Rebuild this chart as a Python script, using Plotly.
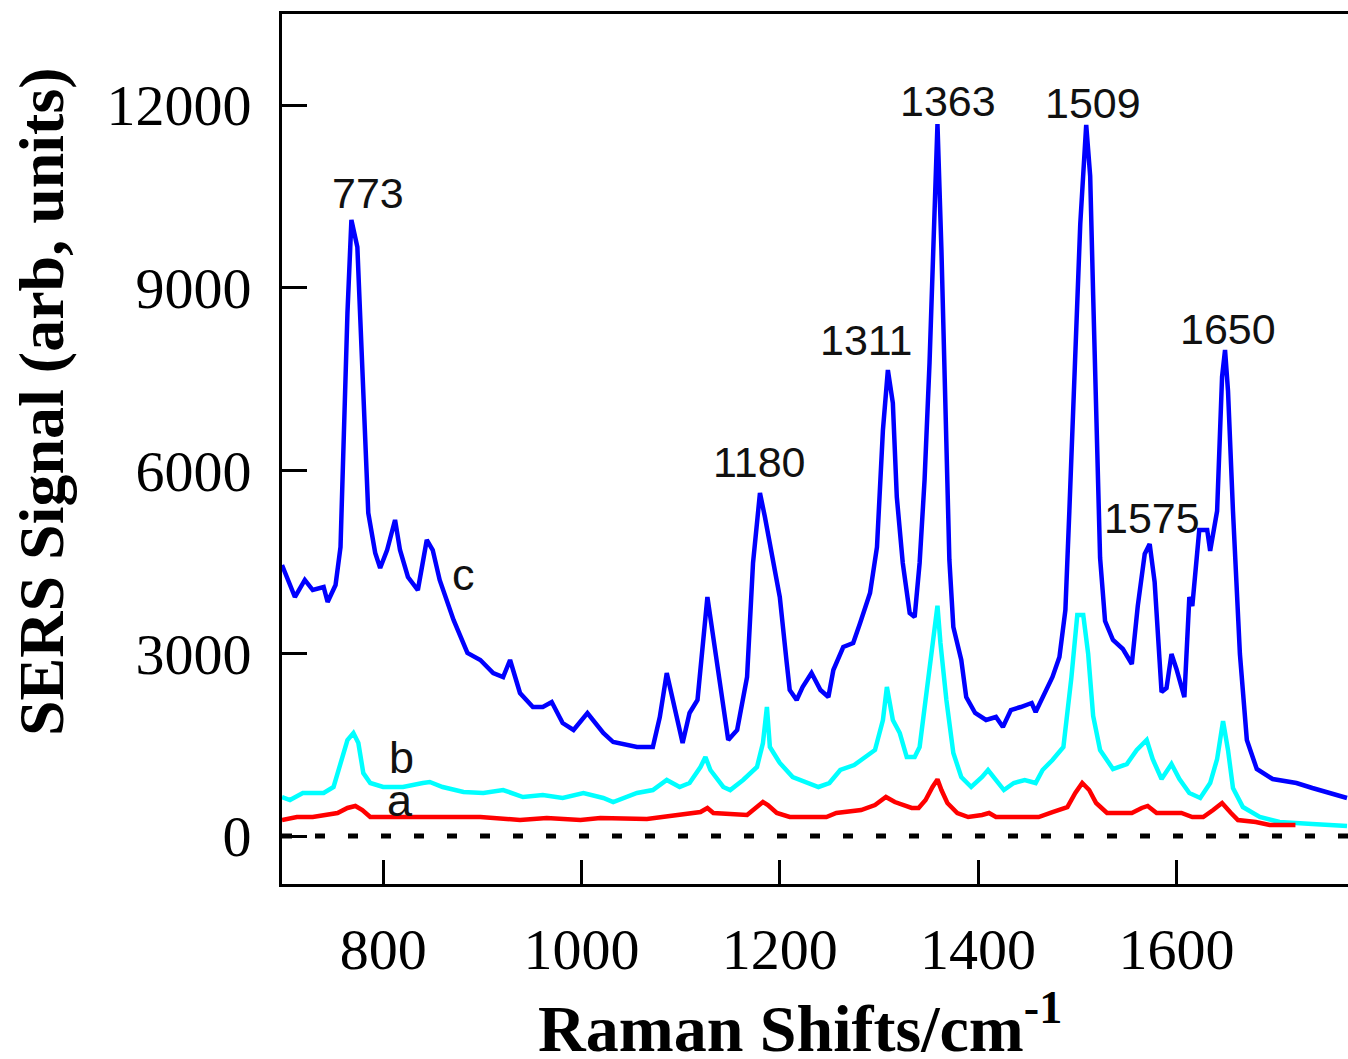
import plotly.graph_objects as go

# ---- Data (Raman shift in cm^-1, SERS signal in arb. units) ----
c_x = [698, 711, 721, 729, 740, 744, 752, 757, 760, 764, 768, 774, 777, 782, 785, 792, 797,
       804, 812, 817, 825, 835, 844, 850, 857, 871, 885, 898, 911, 921, 928, 938, 951, 961,
       970, 981, 992, 1006, 1022, 1032, 1056, 1072, 1079, 1086, 1092, 1102, 1109, 1117, 1127,
       1137, 1148, 1157, 1167, 1173, 1180, 1185, 1193, 1200, 1207, 1210, 1217, 1223, 1232,
       1241, 1249, 1254, 1264, 1274, 1281, 1291, 1298, 1304, 1309, 1314, 1318, 1324, 1331,
       1336, 1341, 1346, 1351, 1356, 1359, 1363, 1368, 1371, 1375, 1383, 1388, 1397, 1408,
       1418, 1425, 1433, 1443, 1454, 1458, 1465, 1475, 1482, 1488, 1492, 1498, 1503, 1509,
       1513, 1516, 1520, 1523, 1528, 1536, 1546, 1555, 1561, 1568, 1573, 1578, 1585, 1590,
       1595, 1600, 1608, 1613, 1616, 1623, 1631, 1634, 1641, 1646, 1649, 1652, 1657, 1664,
       1671, 1681, 1697, 1721, 1737, 1755, 1772]
c_y = [4450, 3924, 4204, 4039, 4089, 3842, 4121, 4745, 6387, 8588, 10115, 9671, 8473, 6667,
       5304, 4647, 4401, 4696, 5189, 4696, 4253, 4039, 4860, 4696, 4204, 3547, 3005, 2890,
       2676, 2611, 2890, 2348, 2118, 2118, 2200, 1855, 1741, 2020, 1691, 1543, 1461, 1461,
       1954, 2676, 2233, 1527, 2020, 2233, 3924, 2775, 1576, 1741, 2611, 4483, 5632, 5238,
       4483, 3924, 2841, 2397, 2233, 2447, 2676, 2397, 2282, 2726, 3103, 3169, 3497, 3990,
       4745, 6667, 7652, 7110, 5566, 4483, 3662, 3596, 4483, 5846, 7767, 10443, 11691, 9622,
       6831, 4532, 3432, 2890, 2282, 2020, 1905, 1954, 1790, 2069, 2118, 2184, 2036, 2282,
       2611, 2939, 3711, 5337, 7701, 10049, 11675, 10837, 8883, 6125, 4565, 3530, 3218, 3071,
       2824, 3777, 4630, 4795, 4171, 2364, 2430, 2988, 2742, 2282, 3924, 3777, 5024, 5024,
       4680, 5337, 7537, 7980, 7307, 5337, 2988, 1576, 1100, 936, 870, 788, 706, 624]

b_x = [698, 706, 719, 740, 750, 757, 764, 770, 775, 780, 787, 800, 820, 840, 847, 860, 881,
       901, 921, 941, 961, 981, 1002, 1022, 1032, 1056, 1072, 1086, 1099, 1109, 1120, 1125,
       1130, 1143, 1150, 1163, 1177, 1183, 1187, 1190, 1200, 1213, 1225, 1239, 1250, 1261,
       1275, 1286, 1296, 1304, 1308, 1314, 1321, 1328, 1336, 1341, 1350, 1355, 1359, 1362,
       1368, 1375, 1383, 1393, 1404, 1410, 1418, 1426, 1436, 1447, 1458, 1465, 1475, 1486,
       1494, 1500, 1506, 1511, 1516, 1523, 1536, 1550, 1560, 1570, 1576, 1585, 1595, 1603,
       1613, 1624, 1634, 1641, 1647, 1652, 1657, 1667, 1684, 1704, 1737, 1772]
b_y = [640, 591, 706, 706, 805, 1199, 1576, 1691, 1527, 1034, 870, 805, 805, 870, 887, 805,
       722, 706, 755, 640, 673, 624, 706, 624, 558, 706, 755, 920, 805, 870, 1133, 1297, 1084,
       805, 755, 920, 1133, 1527, 2118, 1461, 1199, 969, 887, 805, 870, 1084, 1166, 1297,
       1412, 1905, 2447, 1905, 1691, 1297, 1297, 1461, 2562, 3169, 3780, 3169, 2233, 1363,
       969, 805, 969, 1084, 920, 755, 870, 920, 870, 1084, 1248, 1461, 2594, 3630, 3630,
       2988, 1970, 1412, 1100, 1182, 1412, 1576, 1264, 936, 1182, 936, 706, 624, 870, 1264,
       1888, 1412, 788, 476, 312, 230, 197, 164]

a_x = [698, 713, 729, 754, 764, 772, 779, 787, 830, 898, 938, 965, 999, 1019, 1066, 1099,
       1120, 1127, 1133, 1167, 1183, 1188, 1197, 1210, 1247, 1257, 1282, 1296, 1307, 1316,
       1325, 1333, 1340, 1347, 1354, 1359, 1363, 1369, 1379, 1390, 1404, 1411, 1418, 1461,
       1475, 1490, 1498, 1505, 1512, 1519, 1530, 1555, 1565, 1571, 1580, 1605, 1616, 1627,
       1637, 1646, 1655, 1662, 1680, 1694, 1720]
a_y = [263, 312, 312, 378, 460, 493, 427, 312, 312, 312, 263, 296, 263, 296, 279, 345, 394,
       460, 378, 345, 558, 509, 378, 312, 312, 378, 427, 509, 640, 558, 509, 460, 460, 591,
       805, 930, 755, 542, 378, 312, 345, 378, 312, 312, 394, 476, 706, 870, 755, 542, 378,
       378, 460, 493, 378, 378, 312, 312, 427, 542, 378, 263, 230, 181, 181]

zero_x = [698, 1773]
zero_y = [0, 0]

peak_labels = ["773", "1180", "1311", "1363", "1509", "1575", "1650"]
peak_label_x = [785, 1179, 1287, 1370, 1516, 1575, 1652]
peak_label_y = [10558, 6141, 8144, 12069, 12036, 5222, 8325]

curve_labels = ["c", "b", "a"]
curve_label_x = [881, 819, 817]
curve_label_y = [4286, 1297, 591]

x_ticks = [800, 1000, 1200, 1400, 1600]
x_tick_text = ["800", "1000", "1200", "1400", "1600"]
y_ticks = [0, 3000, 6000, 9000, 12000]
y_tick_text = ["0", "3000", "6000", "9000", "12000"]

fig = go.Figure()
fig.add_trace(go.Scatter(x=zero_x, y=zero_y, mode="lines",
                         line=dict(color="black", width=5, dash="10px,23px"),
                         showlegend=False, hoverinfo="skip"))
fig.add_trace(go.Scatter(x=c_x, y=c_y, mode="lines",
                         line=dict(color="#0000FF", width=4.5), showlegend=False))
fig.add_trace(go.Scatter(x=b_x, y=b_y, mode="lines",
                         line=dict(color="#00FFFF", width=4.5), showlegend=False))
fig.add_trace(go.Scatter(x=a_x, y=a_y, mode="lines",
                         line=dict(color="#FF0000", width=4.5), showlegend=False))

annotations = []
for t, x, y in zip(peak_labels, peak_label_x, peak_label_y):
    annotations.append(dict(x=x, y=y, xref="x", yref="y", text=t, showarrow=False,
                            xanchor="center", yanchor="middle",
                            font=dict(family="Liberation Sans", size=43, color="#111111")))
for t, x, y in zip(curve_labels, curve_label_x, curve_label_y):
    annotations.append(dict(x=x, y=y, xref="x", yref="y", text=t, showarrow=False,
                            xanchor="center", yanchor="middle",
                            font=dict(family="Liberation Sans", size=45, color="#111111")))

W, H = 1348, 1059
L, R, T, B = 282, 0, 14, 175
pw, ph = W - L - R, H - T - B

annotations.append(dict(x=(42 - L) / pw, y=(H - B - 402) / ph, xref="paper", yref="paper",
                        text="<b>SERS Signal (arb, units)</b>",
                        showarrow=False, textangle=-90, xanchor="center", yanchor="middle",
                        font=dict(family="Liberation Serif", size=64, color="black")))
annotations.append(dict(x=(800 - L) / pw, y=(H - B - 980) / ph, xref="paper", yref="paper",
                        text="<b>Raman Shifts/cm<sup>-1</sup></b>",
                        showarrow=False, xanchor="center", yanchor="top",
                        font=dict(family="Liberation Serif", size=66, color="black")))

fig.update_layout(
    width=W, height=H,
    margin=dict(l=L, r=R, t=T, b=B),
    paper_bgcolor="white", plot_bgcolor="white",
    annotations=annotations,
    xaxis=dict(range=[698, 1773], tickvals=x_ticks, ticktext=x_tick_text,
               ticks="inside", ticklen=24, tickwidth=3,
               tickcolor="black", showline=True, linewidth=3, linecolor="black", mirror=True,
               showgrid=False, zeroline=False, ticklabelstandoff=12,
               tickfont=dict(family="Liberation Serif", size=58, color="black")),
    yaxis=dict(range=[-788, 13497], tickvals=y_ticks, ticktext=y_tick_text,
               ticks="inside", ticklen=25, tickwidth=3,
               tickcolor="black", showline=True, linewidth=3, linecolor="black", mirror=False,
               showgrid=False, zeroline=False, ticklabelstandoff=16,
               tickfont=dict(family="Liberation Serif", size=58, color="black")),
)

fig.write_html("out.html")
